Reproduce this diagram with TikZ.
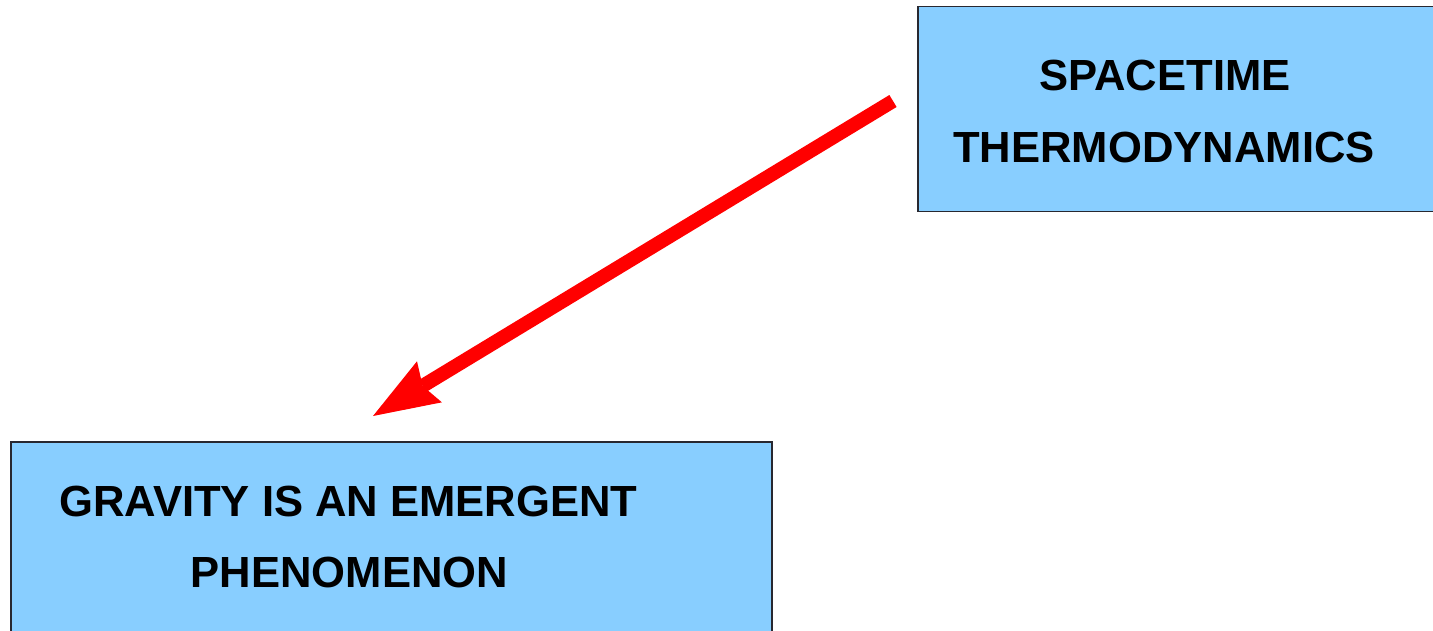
\documentclass[tikz,border=0pt]{standalone}
\usepackage{fontspec}
\setmainfont{Liberation Sans}
\usetikzlibrary{arrows.meta}
\definecolor{boxblue}{RGB}{136,206,255}
\definecolor{boxline}{RGB}{40,40,48}
\definecolor{arrowred}{RGB}{255,0,0}
\tikzset{
  box/.style={draw=boxline, line width=1.5pt, fill=boxblue, rectangle, inner sep=0pt, anchor=north west},
  label text/.style={font=\fontsize{43.6}{50}\selectfont\bfseries, text=black, inner sep=0pt, anchor=base},
  bigarrow/.style={draw=arrowred, line width=14pt, line cap=butt,
    -{Stealth[length=66pt, width=48pt, inset=8pt, line width=0pt]}}
}
\begin{document}
\begin{tikzpicture}[x=1pt, y=-1pt]
\useasboundingbox (0,0) rectangle (1433,631);
\clip (0,0) rectangle (1433,631);
\fill[white] (0,0) rectangle (1433,631);
% boxes
\node[box, minimum width=540pt, minimum height=205pt] (stbox) at (917,6) {};
\node[box, minimum width=761pt, minimum height=220pt] (grbox) at (10,441) {};
% texts
\node[label text] (st1) at (1165,91) {SPACETIME};
\node[label text] (st2) at (1164,163) {THERMODYNAMICS};
\node[label text] (gr1) at (348.5,516) {GRAVITY IS AN EMERGENT};
\node[label text] (gr2) at (349.5,587) {PHENOMENON};
% arrow
\coordinate (tail) at (893,101);
\coordinate (tip) at (373,416);
\draw[bigarrow] (tail) -- (tip);
\end{tikzpicture}
\end{document}
